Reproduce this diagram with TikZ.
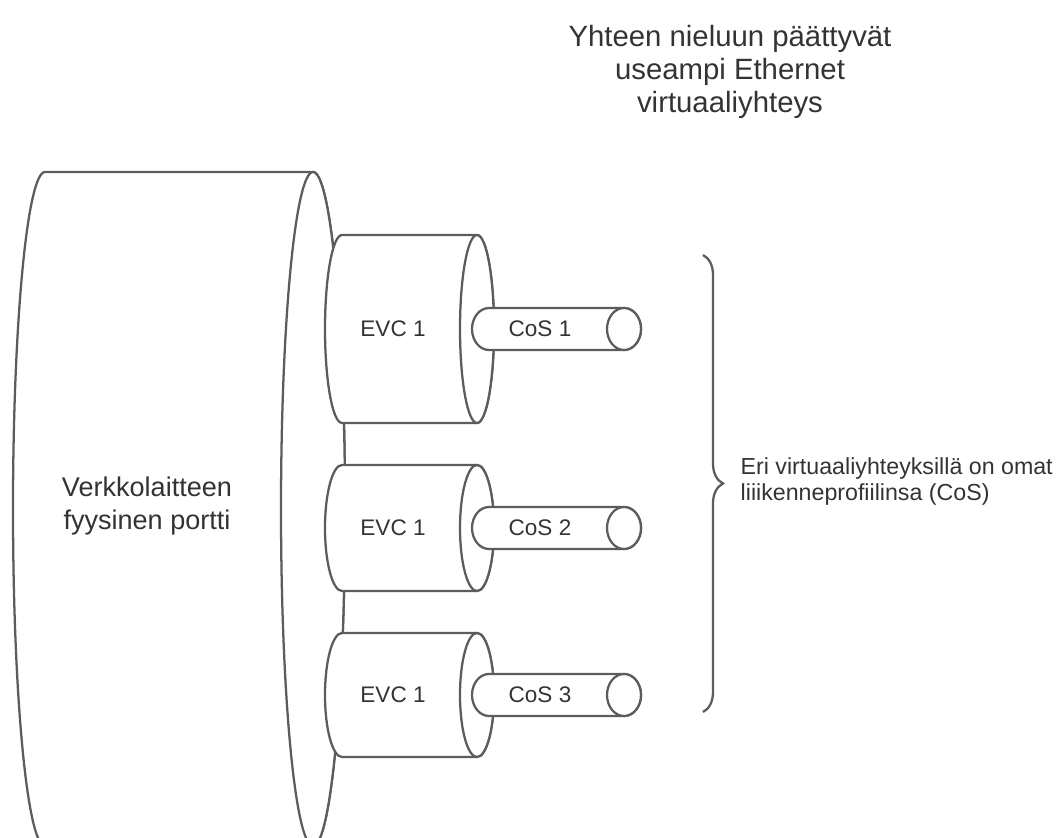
\documentclass[tikz,border=0pt]{standalone}
\usepackage{fontspec}
\setsansfont{Liberation Sans}
\usetikzlibrary{decorations.pathreplacing}
\definecolor{ink}{HTML}{333333}
\definecolor{rim}{HTML}{5C5C5C}

\tikzset{
  cyl/.style={draw=rim,fill=white,line width=1.7pt,line join=round},
  label/.style={font=\sffamily\fontsize{16.9}{19.5}\selectfont},
}

% lying cylinder: left x, right x, mid y, end x radius, end y radius
\newcommand{\hcyl}[5]{%
  \filldraw[cyl] (#1,#3+#5) -- (#2,#3+#5)
    arc[start angle=90,end angle=-90,x radius=#4,y radius=#5]
    -- (#1,#3-#5)
    arc[start angle=270,end angle=90,x radius=#4,y radius=#5] -- cycle;
  \draw[cyl] (#2,#3) ellipse[x radius=#4,y radius=#5];}

\begin{document}
\begin{tikzpicture}[x=0.75pt,y=0.75pt,font=\sffamily,text=ink]
  \useasboundingbox (0,0) rectangle (1060,838);

  \node[align=center,font=\sffamily\fontsize{22}{24.75}\selectfont] (title) at (730,766)
    {Yhteen nieluun päättyvät\\useampi Ethernet\\virtuaaliyhteys};

  % the physical port
  \hcyl{45}{313}{329}{32}{337}
  \node[align=center,font=\sffamily\fontsize{20.3}{24.75}\selectfont] (port) at (147,332)
    {Verkkolaitteen\\fyysinen portti};

  % virtual connections and their traffic profiles
  \foreach \i/\y/\h in {1/509/94, 2/310/63, 3/143/62} {
    \hcyl{342}{477}{\y}{17}{\h}
    \node[label] (evc\i) at (393,\y) {EVC 1};
    \hcyl{489}{624}{\y}{17}{21}
    \node[label] (cos\i) at (540,\y) {CoS \i};
  }

  \coordinate (btop) at (703,583);
  \coordinate (bbot) at (703,126);
  \draw[rim,line width=1.7pt,decorate,decoration={brace,amplitude=15pt}]
    (btop) -- (bbot);
  \node[anchor=west,align=left,font=\sffamily\fontsize{17.4}{19.5}\selectfont] (note)
    at (736,356) {Eri virtuaaliyhteyksillä on omat\\liiikenneprofiilinsa (CoS)};
\end{tikzpicture}
\end{document}
